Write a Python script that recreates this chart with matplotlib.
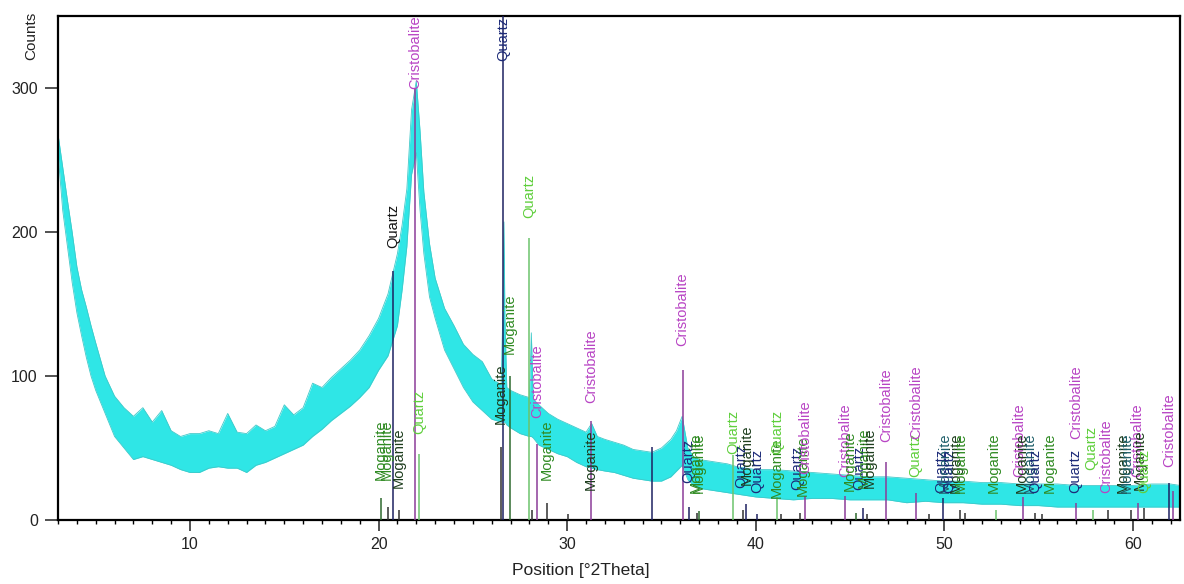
import matplotlib
matplotlib.use("Agg")

import numpy as np
import matplotlib.pyplot as plt
from matplotlib.ticker import MultipleLocator

plt.rcParams["font.family"] = ["Liberation Sans", "DejaVu Sans"]

# scan: lower / upper edge of the noisy trace (counts) at each 2theta
two_theta = [3.0, 3.25, 3.5, 3.75, 4.0, 4.25, 4.5, 4.75, 5.0, 5.5, 6.0, 6.5, 7.0, 7.5,
             8.0, 8.5, 9.0, 9.5, 10.0, 10.5, 11.0, 11.5, 12.0, 12.5, 13.0, 13.5, 14.0,
             14.5, 15.0, 15.5, 16.0, 16.5, 17.0, 17.5, 18.0, 18.5, 19.0, 19.5, 20.0,
             20.5, 21.0, 21.25, 21.5, 21.75, 22.0, 22.2, 22.4, 22.7, 23.0, 23.5, 24.0,
             24.5, 25.0, 25.5, 26.0, 26.5, 26.6, 26.65, 26.7, 26.8, 27.0, 27.5, 28.0,
             28.1, 28.2, 28.5, 29.0, 29.5, 30.0, 30.5, 31.0, 31.3, 31.6, 32.0, 32.5,
             33.0, 33.5, 34.0, 34.5, 35.0, 35.5, 35.8, 36.1, 36.4, 36.7, 37.0, 37.5,
             38.0, 38.5, 39.0, 39.5, 40.0, 41.0, 42.0, 43.0, 44.0, 45.0, 46.0, 47.0,
             48.0, 49.0, 50.0, 51.0, 52.0, 53.0, 54.0, 55.0, 56.0, 57.0, 58.0, 59.0,
             60.0, 61.0, 62.0, 62.5]
counts_low = [255, 215, 190, 165, 144, 128, 113, 100, 90, 74, 58, 50, 42, 44,
              42, 40, 38, 35, 33, 33, 36, 37, 36, 36, 33, 38, 40,
              43, 46, 49, 52, 58, 63, 69, 74, 79, 85, 92, 104,
              114, 135, 160, 190, 240, 255, 215, 185, 155, 140, 118, 105,
              92, 82, 76, 70, 68, 68, 68, 68, 66, 64, 60, 58,
              58, 57, 52, 49, 46, 44, 40, 37, 36, 35, 34, 33,
              31, 29, 28, 27, 27, 30, 34, 38, 28, 24, 22, 21,
              20, 19, 18, 17, 16, 15, 14, 15, 15, 14, 14, 14,
              12, 13, 12, 12, 11, 11, 10, 10, 9, 9, 9, 9,
              9, 9, 9, 9]
counts_high = [268, 245, 222, 200, 176, 160, 148, 135, 123, 100, 86, 78, 72, 78,
               68, 76, 62, 58, 60, 60, 62, 60, 74, 61, 60, 66, 62,
               65, 80, 73, 78, 95, 92, 99, 105, 111, 118, 128, 140,
               157, 185, 205, 230, 285, 305, 270, 228, 192, 168, 147, 135,
               122, 115, 110, 98, 94, 150, 207, 140, 92, 90, 87, 85,
               130, 84, 80, 74, 70, 67, 64, 61, 67, 58, 56, 54,
               52, 49, 48, 47, 50, 56, 62, 72, 50, 44, 42, 41,
               40, 39, 37, 36, 35, 35, 34, 33, 32, 31, 30, 30,
               29, 28, 27, 27, 26, 26, 25, 25, 25, 24, 24, 24,
               24, 25, 25, 24]

# reference pattern sticks
stick_pos = [20.14, 20.51, 20.78, 21.07, 21.92, 22.15, 26.47, 26.6, 26.97, 27.97,
             28.13, 28.4, 28.93, 30.04, 31.27, 34.48, 36.12, 36.44, 36.86, 36.97,
             38.82, 39.35, 39.5, 40.09, 41.15, 41.36, 42.37, 42.63, 44.75, 45.33,
             45.7, 45.9, 46.92, 48.5, 49.2, 49.93, 50.83, 51.1, 52.74, 54.17,
             54.8, 55.2, 56.97, 57.87, 58.66, 59.88, 60.25, 60.57, 61.94, 62.15]
stick_height = [15, 9, 173, 7, 300, 46, 51, 360, 100, 196,
                7, 53, 12, 4, 69, 51, 104, 9, 5, 6,
                45, 7, 11, 4, 16, 4, 5, 17, 17, 5,
                8, 4, 40, 19, 4, 15, 7, 5, 7, 16,
                5, 4, 12, 7, 7, 7, 12, 8, 26, 20]
stick_phase = ["Mg", "Mk", "Qn", "Mk", "C", "Qg", "Mk", "Qn", "Mg", "Qg",
               "Mk", "C", "Mk", "Mk", "C", "Qn", "C", "Qn", "Mk", "Mg",
               "Qg", "Mk", "Qn", "Qn", "Qg", "Mk", "Mk", "C", "C", "Mg",
               "Qn", "Mk", "C", "C", "Mk", "Qn", "Mk", "Mk", "Qg", "C",
               "Mk", "Mk", "C", "Qg", "Mk", "Mk", "C", "Mk", "Qn", "C"]

# phase labels: position and count level of the text's foot
label_pos = [20.14, 20.45, 21.05, 20.78, 21.92, 22.15, 26.6, 26.47, 26.97, 27.97,
             28.4, 28.93, 31.27, 31.27, 36.12, 36.44, 36.82, 37.0, 38.82, 39.25,
             39.5, 40.09, 41.1, 41.15, 42.2, 42.5, 42.63, 44.75, 44.97, 45.5,
             45.75, 46.05, 46.92, 48.45, 48.5, 49.85, 50.05, 50.25, 50.6, 50.85,
             52.6, 54.0, 54.1, 54.55, 54.8, 55.6, 56.95, 57.0, 57.8, 58.6,
             59.45, 59.7, 60.25, 60.35, 60.6, 61.94]
label_base = [28, 28, 22, 189, 299, 60, 319, 67, 115, 210,
              71, 28, 81, 21, 121, 26, 19, 19, 46, 22,
              24, 19, 15, 46, 21, 17, 32, 30, 20, 21,
              22, 22, 54, 30, 56, 19, 19, 19, 19, 19,
              19, 30, 19, 19, 19, 19, 19, 56, 35, 19,
              19, 19, 30, 21, 19, 37]
label_phase = ["Mg", "Mg", "Mk", "Qk", "C", "Qg", "Qn", "Mk", "Mg", "Qg",
               "C", "Mg", "C", "Mk", "C", "Qn", "Mg", "Mg", "Qg", "Qn",
               "Mk", "Qn", "Mg", "Qg", "Qn", "Mg", "C", "C", "Mg", "Qn",
               "Mg", "Mk", "C", "Qg", "C", "Qn", "Mt", "Qn", "Mk", "Mg",
               "Mg", "C", "Mk", "Mt", "Qn", "Mg", "Qn", "C", "Qg", "C",
               "Mk", "Mt", "C", "Mk", "Qg", "C"]

phase_name = {"C": "Cristobalite", "Qn": "Quartz", "Qk": "Quartz", "Qg": "Quartz",
              "Mg": "Moganite", "Mk": "Moganite", "Mt": "Moganite"}
text_color = {"C": "#b844c4", "Qn": "#1c2a78", "Qk": "#141414", "Qg": "#5fcf3c",
              "Mg": "#2f8a22", "Mk": "#1d3d1d", "Mt": "#1f5f6a"}
line_color = {"C": "#8c3c98", "Qn": "#1e2262", "Qg": "#6cc46c",
              "Mg": "#2e6a2e", "Mk": "#303030"}

fig = plt.figure(figsize=(11.84, 5.84), dpi=100)
ax = fig.add_axes([58 / 1184, 1 - 520 / 584, 1122 / 1184, 504 / 584])

# noisy scan drawn as a band between its edges
ax.fill_between(two_theta, counts_low, counts_high, color="#2fe6e6", lw=0, zorder=2)
ax.plot(two_theta, counts_high, color="#3fc9c9", lw=0.6, zorder=2)
ax.plot(two_theta, counts_low, color="#3fc9c9", lw=0.6, zorder=2)

for x, h, p in zip(stick_pos, stick_height, stick_phase):
    ax.vlines(x, 0, h, color=line_color[p], lw=1.1, zorder=3)

for x, y, p in zip(label_pos, label_base, label_phase):
    ax.text(x, y, phase_name[p], rotation=90, ha="center", va="bottom",
            fontsize=10.5, color=text_color[p], zorder=4, clip_on=True)

ax.set_xlim(3, 62.5)
ax.set_ylim(0, 350)
ax.set_yticks([0, 100, 200, 300])
ax.xaxis.set_major_locator(MultipleLocator(10))
ax.xaxis.set_minor_locator(MultipleLocator(1))

for s in ax.spines.values():
    s.set_linewidth(1.6)
ax.tick_params(axis="y", direction="out", length=9.5, width=1.1, labelsize=11.5,
               pad=5, colors="#222222")
ax.tick_params(axis="x", which="major", direction="out", length=8, width=1.1,
               labelsize=11.5, pad=4, colors="#222222")
ax.tick_params(axis="x", which="minor", direction="out", length=3, width=1.0)

fig.text(31 / 1184, 1 - 12 / 584, "Counts", rotation=90, ha="center", va="top",
         fontsize=11, color="#222222")
fig.text(581 / 1184, 1 - 571 / 584, "Position [°2Theta]", ha="center", va="center",
         fontsize=12.5, color="#222222")

fig.savefig("out.png", dpi=100)
